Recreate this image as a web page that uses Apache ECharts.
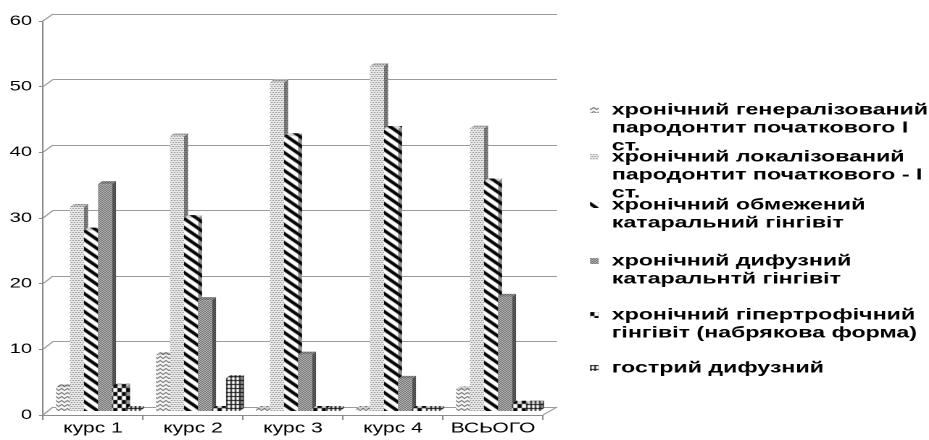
<!DOCTYPE html>
<html><head><meta charset="utf-8">
<script src="https://cdn.jsdelivr.net/npm/echarts@6/dist/echarts.min.js"></script>
<style>
html,body{margin:0;padding:0;background:#fff;overflow:hidden;width:929px;height:440px}
#c{position:absolute;left:0;top:0;width:641px;height:440px;transform:scaleX(1.449298);transform-origin:0 0}
</style>
</head><body><div id="c"></div>
<script>
// ---------- data ----------
const categories = ['курс 1', 'курс 2', 'курс 3', 'курс 4', 'ВСЬОГО'];
const seriesNames = [
  'хронічний генералізований пародонтит початкового І ст.',
  'хронічний локалізований пародонтит початкового - І ст.',
  'хронічний обмежений катаральний гінгівіт',
  'хронічний дифузний катаральнтй гінгівіт',
  'хронічний гіпертрофічний гінгівіт (набрякова форма)',
  'гострий дифузний'
];
const legendLines = [
  ['хронічний генералізований', 'пародонтит початкового І', 'ст.'],
  ['хронічний локалізований', 'пародонтит початкового - І', 'ст.'],
  ['хронічний обмежений', 'катаральний гінгівіт'],
  ['хронічний дифузний', 'катаральнтй гінгівіт'],
  ['хронічний гіпертрофічний', 'гінгівіт (набрякова форма)'],
  ['гострий дифузний']
];
const generalized   = [3.6, 8.5, 0.3, 0.3, 3.3];
const localized     = [31.1, 41.9, 50.1, 52.6, 43.1];
const limited       = [27.5, 29.4, 41.9, 43.0, 35.0];
const diffuse       = [34.6, 16.9, 8.6, 4.9, 17.4];
const hypertrophic  = [3.7, 0.3, 0.3, 0.3, 1.1];
const acute         = [0.3, 5.0, 0.3, 0.3, 1.1];
const seriesValues = [generalized, localized, limited, diffuse, hypertrophic, acute];
const yTickLabels = ['0', '10', '20', '30', '40', '50', '60'];

// ---------- patterns ----------
function makePattern(w, h, draw) {
  const c = document.createElement('canvas');
  c.width = w; c.height = h;
  const ctx = c.getContext('2d');
  ctx.fillStyle = '#fff'; ctx.fillRect(0, 0, w, h);
  draw(ctx, w, h);
  return { image: c, repeat: 'repeat', imageWidth: w, imageHeight: h };
}
const patterns = [
  makePattern(4, 4, (ctx) => { ctx.fillStyle = '#333';
    ctx.fillRect(0, 2, 1, 1); ctx.fillRect(1, 1, 1, 1); ctx.fillRect(2, 0, 1, 1); ctx.fillRect(3, 1, 1, 1); }),
  makePattern(4, 4, (ctx) => { ctx.fillStyle = '#555';
    ctx.fillRect(0, 0, 1, 1); ctx.fillRect(2, 0, 1, 1); ctx.fillRect(1, 2, 1, 1); ctx.fillRect(3, 2, 1, 1); }),
  makePattern(9, 9, (ctx, w, h) => { ctx.fillStyle = '#000';
    for (let y = 0; y < h; y++) for (let x = 0; x < w; x++) { if ((((y - x) % 9) + 9) % 9 < 4) ctx.fillRect(x, y, 1, 1); } }),
  makePattern(2, 2, (ctx) => { ctx.fillStyle = '#2a2a2a';
    ctx.fillRect(0, 0, 1, 1); ctx.fillRect(1, 1, 1, 1); }),
  makePattern(6, 8, (ctx) => { ctx.fillStyle = '#000';
    ctx.fillRect(0, 0, 3, 4); ctx.fillRect(3, 4, 3, 4); }),
  makePattern(3, 4, (ctx) => { ctx.fillStyle = '#111';
    ctx.fillRect(0, 0, 1, 4); ctx.fillRect(0, 0, 3, 1); })
];

// ---------- layout (unstretched units, page is stretched horizontally) ----------
const S = 929 / 641;
const FONT = "'Liberation Sans', Arial, sans-serif";
const DX = 4 / S, DY = 3;
const GROUP = 0.84;
const LH = 18;
const legendFirstLine = [110, 157, 205, 261, 315, 368];

function makeRender(k) {
  const pat = patterns[k];
  return function (params, api) {
    const ci = api.value(0), v = api.value(1);
    const p0 = api.coord([ci, 0]), p1 = api.coord([ci, v]);
    const cw = api.size([1, 0])[0];
    const gw = cw * GROUP, bw = gw / seriesValues.length;
    const x = p0[0] - gw / 2 + k * bw, yb = p0[1], yt = p1[1];
    const side = [[x + bw, yt], [x + bw + DX, yt - DY], [x + bw + DX, yb - DY], [x + bw, yb]];
    const top = [[x, yt], [x + DX, yt - DY], [x + bw + DX, yt - DY], [x + bw, yt]];
    return { type: 'group', children: [
      { type: 'polygon', shape: { points: side }, style: { fill: pat } },
      { type: 'polygon', shape: { points: side }, style: { fill: 'rgba(0,0,0,0.45)' } },
      { type: 'polygon', shape: { points: top }, style: { fill: pat } },
      { type: 'polygon', shape: { points: top }, style: { fill: 'rgba(0,0,0,0.15)' } },
      { type: 'rect', shape: { x: x, y: yt, width: bw, height: yb - yt }, style: { fill: pat } }
    ] };
  };
}

const yMin = Number(yTickLabels[0]);
const yMax = Number(yTickLabels[yTickLabels.length - 1]);
const yInt = Number(yTickLabels[1]) - Number(yTickLabels[0]);

const chart = echarts.init(document.getElementById('c'), null, { devicePixelRatio: 2, width: 641, height: 440 });

// leading blank lines keep the legend icon level with the first text line
const legends = legendLines.map((lines, i) => {
  const n = lines.length;
  return {
    show: true, selectedMode: false, orient: 'vertical', padding: 0,
    left: 590 / S, top: legendFirstLine[i] - (2 * n - 1) * LH / 2,
    itemWidth: 6, itemHeight: 6, icon: 'rect',
    data: [seriesNames[i]],
    formatter: (name) => {
      const ls = legendLines[seriesNames.indexOf(name)];
      return '\n'.repeat(ls.length - 1) + ls.join('\n');
    },
    textStyle: { fontFamily: FONT, fontWeight: 'bold', fontSize: 16, color: '#000',
      lineHeight: LH, padding: [0, 0, 0, 4] }
  };
});

const axisGray = '#8c8c8c';
chart.setOption({
  animation: false,
  backgroundColor: '#fff',
  legend: legends,
  grid: [
    { left: 43 / S, right: 641 - 543 / S, top: 21, bottom: 25 },
    { left: 53 / S, right: 641 - 557 / S, top: 14, bottom: 33 },
    { left: 48 / S, right: 641 - 548 / S, top: 17.5, bottom: 29 }
  ],
  xAxis: [
    { type: 'category', gridIndex: 0, data: categories,
      axisLine: { lineStyle: { color: axisGray } },
      axisTick: { show: true, length: 5, lineStyle: { color: axisGray } },
      axisLabel: { interval: 0, fontFamily: FONT, fontSize: 14.5, color: '#000', margin: 6 } },
    { type: 'category', gridIndex: 1, data: categories, show: false },
    { type: 'category', gridIndex: 2, data: categories, show: false }
  ],
  yAxis: [
    { type: 'value', gridIndex: 0, min: yMin, max: yMax, interval: yInt,
      axisLine: { show: true, lineStyle: { color: axisGray } },
      axisTick: { show: true, length: 4 / S, lineStyle: { color: axisGray } },
      splitLine: { show: false },
      axisLabel: { fontFamily: FONT, fontSize: 14, color: '#000', margin: 7.5,
        formatter: (v) => yTickLabels[Math.round((v - yMin) / yInt)] } },
    { type: 'value', gridIndex: 1, min: yMin, max: yMax, interval: yInt,
      axisLine: { show: false }, axisTick: { show: false }, axisLabel: { show: false },
      splitLine: { show: true, lineStyle: { color: '#9a9a9a', width: 1 } } },
    { type: 'value', gridIndex: 2, min: yMin, max: yMax, interval: yInt, show: false,
      splitLine: { show: false } }
  ],
  series: seriesValues.map((vals, k) => ({
    type: 'custom', name: seriesNames[k], xAxisIndex: 2, yAxisIndex: 2,
    itemStyle: { color: patterns[k] },
    renderItem: makeRender(k),
    data: vals.map((v, i) => [i, v])
  }))
});

// side-wall and floor edges, computed from the axes
function edgeX(grid, y) {
  const a = chart.convertToPixel({ xAxisIndex: grid, yAxisIndex: grid }, [0, y]);
  const b = chart.convertToPixel({ xAxisIndex: grid, yAxisIndex: grid }, [1, y]);
  const e = chart.convertToPixel({ xAxisIndex: grid, yAxisIndex: grid }, [categories.length - 1, y]);
  const band = b[0] - a[0];
  return { left: a[0] - band / 2, right: e[0] + band / 2, y: a[1] };
}
const lines = [];
for (let i = 0; i < yTickLabels.length; i++) {
  const v = Number(yTickLabels[i]);
  const f = edgeX(0, v), bk = edgeX(1, v);
  lines.push({ type: 'line', shape: { x1: f.left, y1: f.y, x2: bk.left, y2: bk.y },
    style: { stroke: '#9a9a9a', lineWidth: 1 }, silent: true });
}
const f0 = edgeX(0, yMin), b0 = edgeX(1, yMin);
lines.push({ type: 'line', shape: { x1: f0.right, y1: f0.y, x2: b0.right, y2: b0.y },
  style: { stroke: '#9a9a9a', lineWidth: 1 }, silent: true });
chart.setOption({ graphic: lines });
</script>
</body></html>
